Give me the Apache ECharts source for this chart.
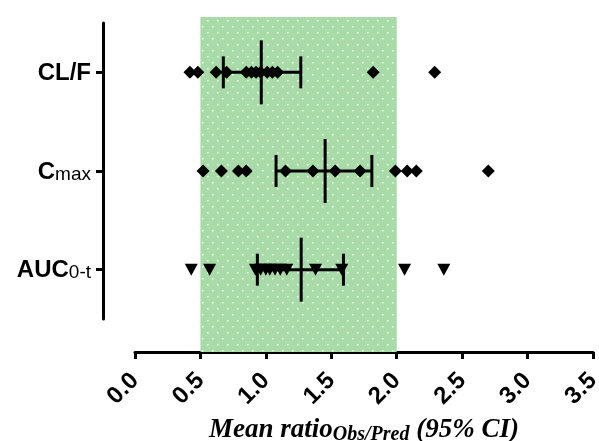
<!DOCTYPE html>
<html>
<head>
<meta charset="utf-8">
<script src="https://cdn.jsdelivr.net/npm/echarts@6/dist/echarts.min.js"></script>
<style>
  html, body { margin: 0; padding: 0; background: #fff; }
  #chart { width: 599px; height: 441px; }
</style>
</head>
<body>
<div id="chart"></div>
<script>
// categories, bottom to top
var params = ['AUC0-t', 'Cmax', 'CL/F'];

// individual obs/pred ratios per parameter
var aucRatios  = [0.43, 0.57, 0.92, 0.96, 1.00, 1.03, 1.07, 1.11, 1.16, 1.38, 1.58, 2.06, 2.36];
var cmaxRatios = [0.52, 0.66, 0.79, 0.85, 1.15, 1.36, 1.53, 1.72, 1.99, 2.08, 2.15, 2.70];
var clfRatios  = [0.42, 0.48, 0.62, 0.70, 0.85, 0.89, 0.925, 0.96, 1.01, 1.05, 1.09, 1.82, 2.29];

// mean ratio and 95% CI (same order as params)
var meanRatio = [1.27, 1.453, 0.965];
var ciLow     = [0.935, 1.078, 0.675];
var ciHigh    = [1.593, 1.81, 1.267];

// acceptance band
var bandLow = 0.5, bandHigh = 2.0;

function toPoints(arr, idx) {
  return arr.map(function (v) { return [v, idx]; });
}

// dotted green fill
var pat = document.createElement('canvas');
pat.width = 10; pat.height = 12;
var pc = pat.getContext('2d');
pc.fillStyle = '#a8dba8';
pc.fillRect(0, 0, 10, 12);
pc.fillStyle = 'rgba(255,255,255,0.85)';
pc.fillRect(2, 2, 1.5, 1.5);
pc.fillRect(7, 8, 1.5, 1.5);

var chart = echarts.init(document.getElementById('chart'));

var labelFont = '"Liberation Sans", Arial, sans-serif';
var serifFont = '"Liberation Serif", "Times New Roman", serif';

chart.setOption({
  backgroundColor: '#ffffff',
  animation: false,
  grid: [
    { left: 135, right: 6, top: 17, bottom: 89, containLabel: false, outerBoundsMode: 'none' },   // band + x axis
    { left: 135, right: 6, top: 23, bottom: 122, containLabel: false, outerBoundsMode: 'none' },  // data
    { left: 103, width: 1, top: 23, bottom: 122, containLabel: false, outerBoundsMode: 'none' }   // detached y axis
  ],
  xAxis: [
    {
      gridIndex: 0, type: 'value', min: 0, max: 3.5, interval: 0.5,
      axisLine: { show: true, lineStyle: { color: '#000', width: 3 } },
      axisTick: { show: true, length: 7, lineStyle: { color: '#000', width: 3 } },
      splitLine: { show: false },
      axisLabel: {
        rotate: 45, margin: 25, color: '#000', fontSize: 24, fontWeight: 'bold',
        fontFamily: labelFont,
        formatter: function (v) { return v.toFixed(1); }
      },
      name: '{a|Mean ratio}{s|Obs/Pred}{a| (95% CI)}',
      nameLocation: 'middle', nameGap: 55,
      nameTextStyle: {
        rich: {
          a: { fontFamily: serifFont, fontStyle: 'italic', fontWeight: 'bold',
               fontSize: 27, color: '#000', lineHeight: 30 },
          s: { fontFamily: serifFont, fontStyle: 'italic', fontWeight: 'bold',
               fontSize: 20, color: '#000', lineHeight: 14, verticalAlign: 'bottom' }
        }
      }
    },
    { gridIndex: 1, type: 'value', min: 0, max: 3.5, show: false },
    { gridIndex: 2, type: 'value', min: 0, max: 1, show: false }
  ],
  yAxis: [
    { gridIndex: 0, type: 'value', min: 0, max: 1, show: false },
    { gridIndex: 1, type: 'category', data: params, show: false },
    {
      gridIndex: 2, type: 'category', data: params,
      axisLine: { show: true, lineStyle: { color: '#000', width: 3 } },
      axisTick: { show: true, alignWithLabel: true, length: 7, lineStyle: { color: '#000', width: 3 } },
      splitLine: { show: false },
      axisLabel: {
        margin: 12, color: '#000',
        formatter: function (v) {
          if (v === 'Cmax') return '{b|C}{s|max}';
          if (v === 'AUC0-t') return '{b|AUC}{s|0-t}';
          return '{b|' + v + '}';
        },
        rich: {
          b: { fontFamily: labelFont, fontWeight: 'bold', fontSize: 24, color: '#000', lineHeight: 26, verticalAlign: 'bottom' },
          s: { fontFamily: labelFont, fontWeight: 'normal', fontSize: 19, color: '#000', lineHeight: 22, verticalAlign: 'bottom' }
        }
      }
    }
  ],
  series: [
    {
      type: 'line', xAxisIndex: 0, yAxisIndex: 0, data: [], silent: true,
      markArea: {
        silent: true,
        itemStyle: { color: { image: pat, repeat: 'repeat' } },
        data: [[{ xAxis: bandLow }, { xAxis: bandHigh }]]
      }
    },
    {
      type: 'custom', xAxisIndex: 1, yAxisIndex: 1, z: 3,
      data: meanRatio.map(function (m, i) { return [m, ciLow[i], ciHigh[i], i]; }),
      renderItem: function (p, api) {
        var c = api.coord([api.value(0), api.value(3)]);
        var lo = api.coord([api.value(1), api.value(3)]);
        var hi = api.coord([api.value(2), api.value(3)]);
        var st = { stroke: '#000', lineWidth: 3 };
        return {
          type: 'group',
          children: [
            { type: 'line', shape: { x1: lo[0], y1: c[1], x2: hi[0], y2: c[1] }, style: st },
            { type: 'line', shape: { x1: lo[0], y1: c[1] - 16, x2: lo[0], y2: c[1] + 16 }, style: st },
            { type: 'line', shape: { x1: hi[0], y1: c[1] - 16, x2: hi[0], y2: c[1] + 16 }, style: st },
            { type: 'line', shape: { x1: c[0], y1: c[1] - 32, x2: c[0], y2: c[1] + 32 }, style: st }
          ]
        };
      }
    },
    {
      type: 'scatter', xAxisIndex: 1, yAxisIndex: 1, z: 4,
      symbol: 'triangle', symbolRotate: 180, symbolSize: [13, 12],
      itemStyle: { color: '#000', opacity: 1 },
      data: toPoints(aucRatios, 0)
    },
    {
      type: 'scatter', xAxisIndex: 1, yAxisIndex: 1, z: 4,
      symbol: 'diamond', symbolSize: 13,
      itemStyle: { color: '#000', opacity: 1 },
      data: toPoints(cmaxRatios, 1)
    },
    {
      type: 'scatter', xAxisIndex: 1, yAxisIndex: 1, z: 4,
      symbol: 'diamond', symbolSize: 13,
      itemStyle: { color: '#000', opacity: 1 },
      data: toPoints(clfRatios, 2)
    }
  ]
});
</script>
</body>
</html>
